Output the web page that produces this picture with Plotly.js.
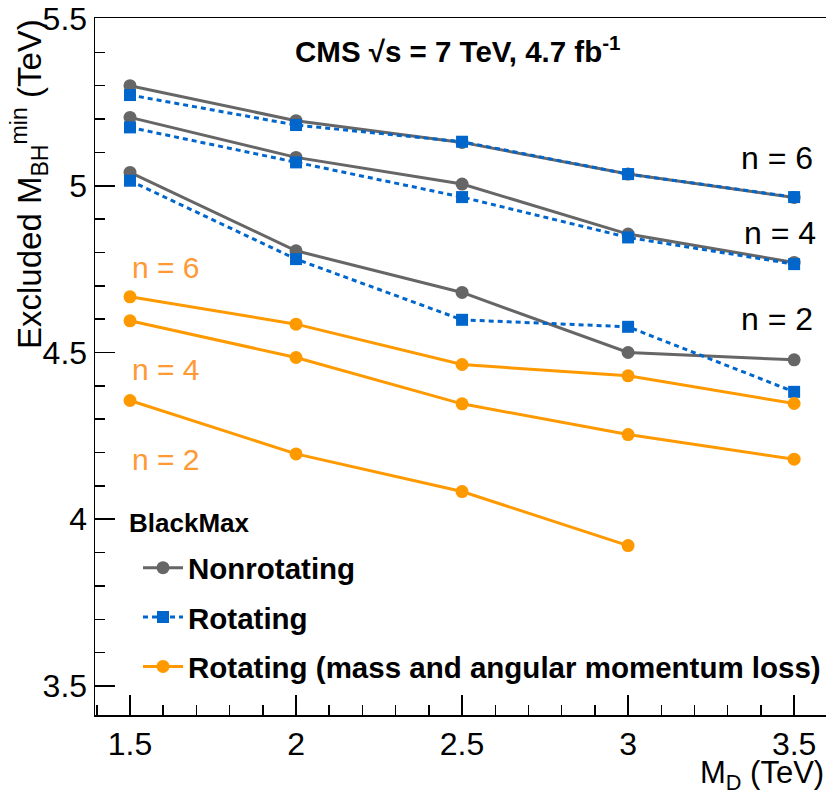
<!DOCTYPE html>
<html>
<head>
<meta charset="utf-8">
<script src="https://cdn.plot.ly/plotly-3.0.1.min.js"></script>
<style>html,body{margin:0;padding:0;background:#fff;}#chart{width:826px;height:797px;}</style>
</head>
<body>
<div id="chart"></div>
<script>
// M_D values (TeV)
var MD = [1.5, 2, 2.5, 3, 3.5];
var MD_lossN2 = [1.5, 2, 2.5, 3];

// Nonrotating
var nonrotN6 = [5.300, 5.195, 5.130, 5.035, 4.965];
var nonrotN4 = [5.205, 5.085, 5.005, 4.855, 4.770];
var nonrotN2 = [5.040, 4.805, 4.680, 4.500, 4.478];
// Rotating
var rotN6 = [5.272, 5.182, 5.132, 5.035, 4.966];
var rotN4 = [5.175, 5.070, 4.966, 4.845, 4.765];
var rotN2 = [5.015, 4.780, 4.598, 4.577, 4.382];
// Rotating (mass and angular momentum loss)
var lossN6 = [4.667, 4.585, 4.464, 4.430, 4.347];
var lossN4 = [4.595, 4.485, 4.346, 4.254, 4.180];
var lossN2 = [4.356, 4.196, 4.083, 3.921];

var seriesNames = ["Nonrotating", "Rotating", "Rotating (mass and angular momentum loss)"];
var xTickVals = [1.5, 2, 2.5, 3, 3.5];
var xTickText = ["1.5", "2", "2.5", "3", "3.5"];
var yTickVals = [3.5, 4, 4.5, 5, 5.5];
var yTickText = ["3.5", "4", "4.5", "5", "5.5"];

var FONT = "Liberation Sans, Arial, Helvetica, sans-serif";
var GRAY = "#666666", BLUE = "#0066cc", ORANGE = "#ff9900";

function gray(y, show) {
  return {x: MD, y: y, type: "scatter", mode: "lines+markers", name: seriesNames[0],
    legendgroup: "g1", showlegend: show,
    line: {color: GRAY, width: 3}, marker: {color: GRAY, size: 13, symbol: "circle"}};
}
function blue(y, show) {
  return {x: MD, y: y, type: "scatter", mode: "lines+markers", name: seriesNames[1],
    legendgroup: "g2", showlegend: show,
    line: {color: BLUE, width: 3, dash: "5px,4px"}, marker: {color: BLUE, size: 12, symbol: "square"}};
}
function orange(x, y, show) {
  return {x: x, y: y, type: "scatter", mode: "lines+markers", name: seriesNames[2],
    legendgroup: "g3", showlegend: show,
    line: {color: ORANGE, width: 3}, marker: {color: ORANGE, size: 13, symbol: "circle"}};
}

var data = [
  gray(nonrotN6, true), gray(nonrotN4, false), gray(nonrotN2, false),
  blue(rotN6, true), blue(rotN4, false), blue(rotN2, false),
  orange(MD, lossN6, true), orange(MD, lossN4, false), orange(MD_lossN2, lossN2, false)
];

// paper coords helpers (plot area: x 95..826, y 18..715)
function px(p) { return (p - 95) / 731; }
function py(p) { return (715 - p) / 697; }

var annotations = [
  {text: "<b>CMS \u221As = 7 TeV, 4.7 fb<sup>-1</sup></b>", xref: "paper", yref: "paper",
   x: px(458), y: py(50), xanchor: "center", yanchor: "middle", showarrow: false,
   font: {family: FONT, size: 29.5, color: "#000"}},
  {text: "Excluded M<sub>BH</sub><sup>min</sup> (TeV)", xref: "paper", yref: "paper",
   x: px(30), y: py(17), xanchor: "center", yanchor: "top", textangle: -90, showarrow: false,
   font: {family: FONT, size: 33, color: "#000"}},
  {text: "M<sub>D</sub> (TeV)", xref: "paper", yref: "paper",
   x: 1.0, y: py(775), xanchor: "right", yanchor: "middle", showarrow: false,
   font: {family: FONT, size: 31, color: "#000"}},
  {text: "<b>BlackMax</b>", xref: "paper", yref: "paper",
   x: px(127), y: py(523), xanchor: "left", yanchor: "middle", showarrow: false,
   font: {family: FONT, size: 26, color: "#000"}},
  {text: "n = 6", x: 3.449, y: 5.084, xref: "x", yref: "y", showarrow: false,
   font: {family: FONT, size: 32, color: "#000"}},
  {text: "n = 4", x: 3.457, y: 4.859, xref: "x", yref: "y", showarrow: false,
   font: {family: FONT, size: 32, color: "#000"}},
  {text: "n = 2", x: 3.449, y: 4.599, xref: "x", yref: "y", showarrow: false,
   font: {family: FONT, size: 32, color: "#000"}},
  {text: "n = 6", x: 1.5, y: 4.754, xref: "x", yref: "y", xanchor: "left", showarrow: false,
   font: {family: FONT, size: 30, color: "#ff9933"}},
  {text: "n = 4", x: 1.5, y: 4.449, xref: "x", yref: "y", xanchor: "left", showarrow: false,
   font: {family: FONT, size: 30, color: "#ff9933"}},
  {text: "n = 2", x: 1.5, y: 4.180, xref: "x", yref: "y", xanchor: "left", showarrow: false,
   font: {family: FONT, size: 30, color: "#ff9933"}}
];

var layout = {
  width: 826, height: 797,
  margin: {l: 95, r: 0, t: 18, b: 82, pad: 0, autoexpand: false},
  paper_bgcolor: "#fff", plot_bgcolor: "#fff",
  font: {family: FONT, color: "#000"},
  showlegend: true,
  legend: {
    x: px(138), y: py(542), xanchor: "left", yanchor: "top",
    bgcolor: "rgba(0,0,0,0)", borderwidth: 0,
    font: {family: FONT, size: 29.5, color: "#000", weight: "bold"},
    traceorder: "grouped", tracegroupgap: 8, itemwidth: 40
  },
  xaxis: {
    range: [1.3946, 3.596], showgrid: false, zeroline: false, automargin: false,
    showline: true, linecolor: "#000", linewidth: 1.5, mirror: true,
    ticks: "inside", ticklen: 20, tickwidth: 1.5, tickcolor: "#000",
    tickvals: xTickVals, ticktext: xTickText,
    tickfont: {family: FONT, size: 32, color: "#000"},
    minor: {ticks: "inside", ticklen: 10, tickwidth: 1.5, tickcolor: "#000", dtick: 0.1, tick0: 0, showgrid: false}
  },
  yaxis: {
    range: [3.413, 5.503], showgrid: false, zeroline: false, automargin: false,
    showline: true, linecolor: "#000", linewidth: 1.5, mirror: false,
    ticks: "inside", ticklen: 20, tickwidth: 1.5, tickcolor: "#000",
    tickvals: yTickVals, ticktext: yTickText,
    tickfont: {family: FONT, size: 32, color: "#000"},
    minor: {ticks: "inside", ticklen: 10, tickwidth: 1.5, tickcolor: "#000", dtick: 0.1, tick0: 0, showgrid: false}
  },
  annotations: annotations
};

Plotly.newPlot("chart", data, layout, {displayModeBar: false, staticPlot: true});
</script>
</body>
</html>
